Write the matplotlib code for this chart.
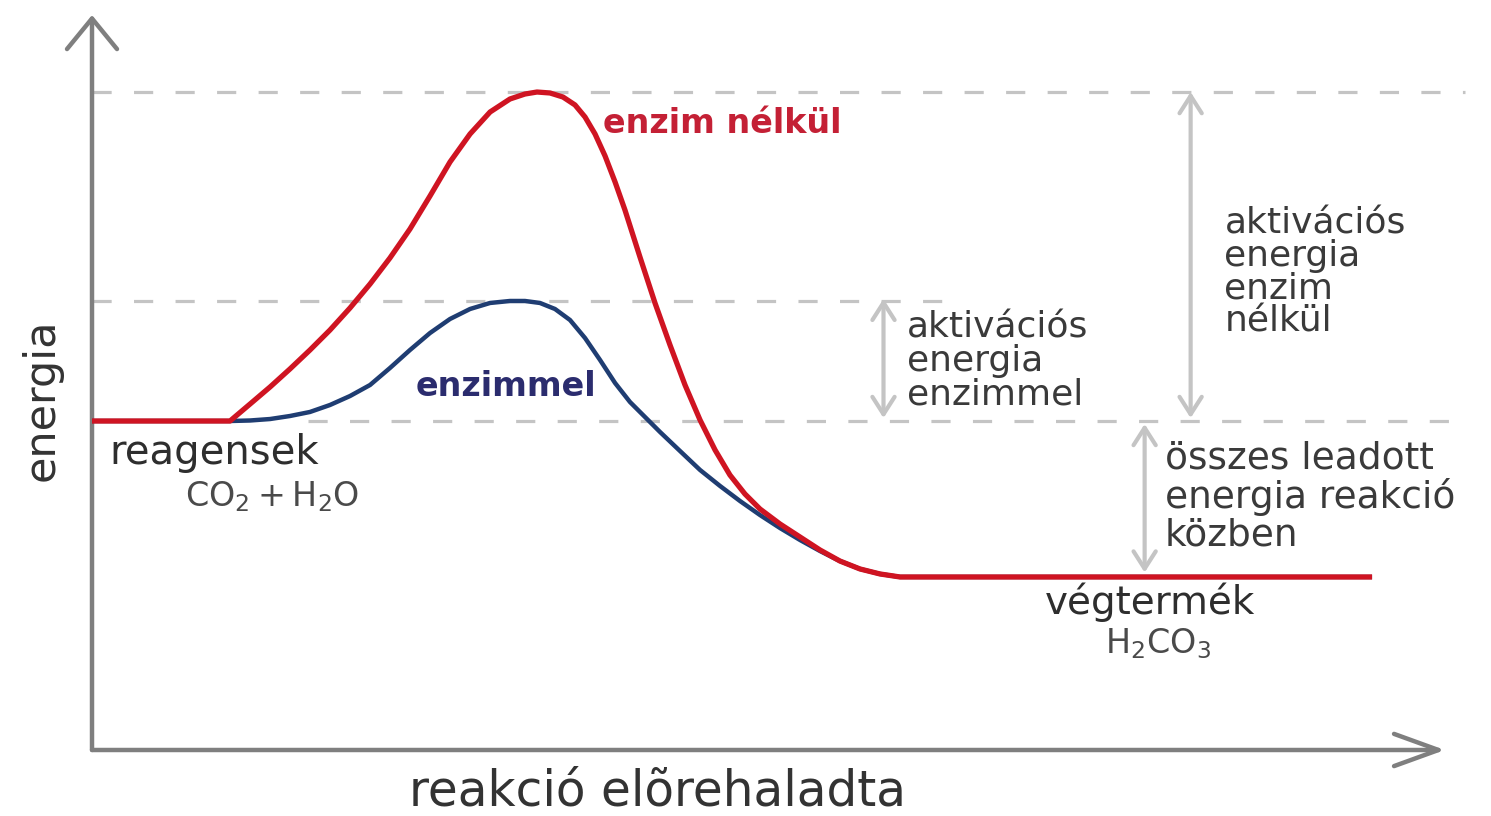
import matplotlib.pyplot as plt

# reakcióút (0-100) és energia (tetszőleges egység)
progress_no_enzyme = [0, 10.20, 11.68, 13.16, 14.63, 16.11, 17.59, 19.07, 20.55, 22.02, 23.50,
                      24.98, 26.46, 27.94, 29.42, 30.89, 32.00, 32.89, 33.85, 34.81, 35.70,
                      36.44, 37.18, 37.92, 38.66, 39.39, 40.50, 41.61, 42.72, 43.83, 44.94,
                      46.05, 47.15, 48.26, 49.37, 50.85, 52.33, 53.81, 55.28, 56.76, 58.24,
                      59.72, 94.61]
energy_no_enzyme = [44.76, 44.76, 47.07, 49.39, 51.84, 54.42, 57.14, 60.14, 63.40, 66.94, 70.88,
                    75.37, 80.00, 83.81, 86.80, 88.57, 89.25, 89.52, 89.39, 88.84, 87.76,
                    86.12, 83.81, 80.82, 77.28, 73.47, 67.07, 60.82, 55.10, 49.66, 44.90,
                    40.82, 37.41, 34.83, 32.79, 30.75, 28.98, 27.21, 25.71, 24.63, 23.95,
                    23.54, 23.54]

progress_enzyme = [0, 10.20, 11.68, 13.16, 14.63, 16.11, 17.59, 19.07, 20.55, 22.02, 23.50,
                   24.98, 26.46, 27.94, 29.42, 30.89, 32.00, 33.11, 34.22, 35.33, 36.44,
                   37.55, 38.66, 39.76, 40.87, 41.98, 43.46, 44.94, 46.42, 47.89, 49.37,
                   50.85, 52.33, 53.81, 55.28, 56.76, 58.24, 59.72, 94.61]
energy_enzyme = [44.76, 44.76, 44.83, 45.03, 45.44, 45.99, 46.94, 48.16, 49.66, 51.97, 54.42,
                 56.73, 58.64, 60.00, 60.82, 61.09, 61.09, 60.82, 60.00, 58.50, 56.05,
                 53.06, 49.93, 47.35, 45.31, 43.27, 40.68, 38.10, 35.92, 33.88, 31.97,
                 30.20, 28.57, 27.07, 25.71, 24.63, 23.95, 23.54, 23.54]

RED = '#cf1422'
BLUE = '#1f3d72'
GREY = '#7f7f7f'
LIGHT = '#c4c4c4'
TXT = '#3a3a3a'

plt.rcParams['font.family'] = ['DejaVu Sans']

fig = plt.figure(figsize=(14.91, 8.16), dpi=100)
ax = fig.add_axes([0, 0, 1, 1])
ax.set_xlim(-6.8, 103.4)
ax.set_ylim(-8.98, 102.04)
ax.axis('off')

start = energy_no_enzyme[0]
end = energy_no_enzyme[-1]
peak_red = max(energy_no_enzyme)
peak_blue = max(energy_enzyme)

# tengelyek nyíllal
ax.annotate('', xy=(0, 100), xytext=(0, 0),
            arrowprops=dict(arrowstyle='->,head_length=0.55,head_width=0.45', color=GREY,
                            lw=3.2, mutation_scale=40, shrinkA=0, shrinkB=0))
ax.annotate('', xy=(100, 0), xytext=(0, 0),
            arrowprops=dict(arrowstyle='->,head_length=0.8,head_width=0.29', color=GREY,
                            lw=3.2, mutation_scale=40, shrinkA=0, shrinkB=0))

# szaggatott segédvonalak
dash = (0, (6, 7))
ax.plot([0, 101.5], [peak_red, peak_red], color=LIGHT, lw=2.3, ls=dash, zorder=1)
ax.plot([0, 63], [peak_blue, peak_blue], color=LIGHT, lw=2.3, ls=dash, zorder=1)
ax.plot([16, 101.5], [start, start], color=LIGHT, lw=2.3, ls=dash, zorder=1)

# görbék
ax.plot(progress_enzyme, energy_enzyme, color=BLUE, lw=3.2, solid_capstyle='butt',
        solid_joinstyle='round', zorder=3)
ax.plot(progress_no_enzyme, energy_no_enzyme, color=RED, lw=3.8, solid_capstyle='butt',
        solid_joinstyle='round', zorder=4)

# kettős nyilak
arr = dict(arrowstyle='<->,head_length=0.5,head_width=0.32', color=LIGHT, lw=3,
           mutation_scale=25, shrinkA=0, shrinkB=0)
ax.annotate('', xy=(58.5, peak_blue + 0.3), xytext=(58.5, start + 0.4), arrowprops=arr)
ax.annotate('', xy=(81.2, peak_red), xytext=(81.2, start + 0.4), arrowprops=arr)
ax.annotate('', xy=(77.8, start - 0.4), xytext=(77.8, end + 0.6), arrowprops=arr)

# feliratok
ax.text(37.8, 85.3, 'enzim nélkül', color='#c42035', fontsize=24, fontweight='bold',
        ha='left', va='center')
ax.text(23.9, 49.4, 'enzimmel', color='#2b2c6e', fontsize=24, fontweight='bold',
        ha='left', va='center')
ax.text(1.3, 40.4, 'reagensek', color='#2e2e2e', fontsize=29, ha='left', va='center')
ax.text(6.9, 34.5, r'$\mathregular{CO_2 + H_2O}$', color='#4a4a4a', fontsize=24,
        ha='left', va='center')
ax.text(70.4, 20.1, 'végtermék', color='#2e2e2e', fontsize=28, ha='left', va='center')
ax.text(74.9, 14.5, r'$\mathregular{H_2CO_3}$', color='#4a4a4a', fontsize=24,
        ha='left', va='center')

ax.text(60.2, 52.9, 'aktivációs\nenergia\nenzimmel', color=TXT, fontsize=26,
        ha='left', va='center', linespacing=0.97)
ax.text(83.7, 65.0, 'aktivációs\nenergia\nenzim\nnélkül', color=TXT, fontsize=26,
        ha='left', va='center', linespacing=0.95)
ax.text(79.3, 34.4, 'összes leadott\nenergia reakció\nközben', color=TXT, fontsize=27,
        ha='left', va='center', linespacing=1.05)

ax.text(41.8, -5.7, 'reakció elõrehaladta', color='#333333', fontsize=35,
        ha='center', va='center')
ax.text(-3.7, 47.6, 'energia', color='#333333', fontsize=31, rotation=90,
        ha='center', va='center')

fig.savefig('out.png', dpi=100)
